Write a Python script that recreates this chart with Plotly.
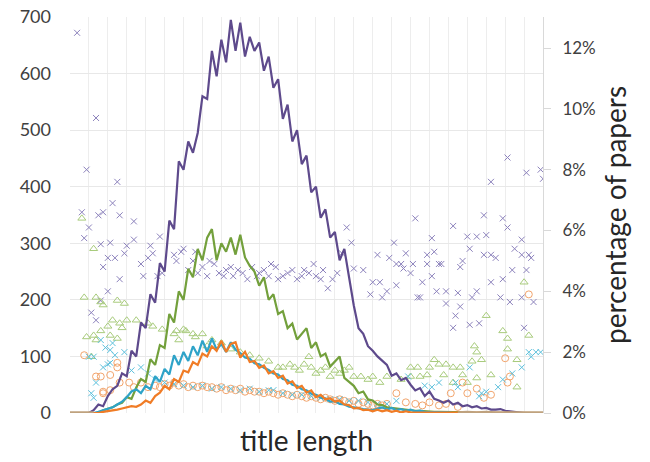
import plotly.graph_objects as go

# ---------------- data ----------------
title_len = list(range(0, 201, 2))

purple_counts = [0, 0, 0, 0, 0, 5, 15, 12, 30, 42,
                 48, 70, 65, 110, 100, 160, 150, 210, 195, 265,
                 250, 340, 325, 445, 430, 480, 460, 495, 560, 555,
                 640, 595, 660, 620, 695, 640, 690, 630, 665, 640,
                 655, 605, 630, 575, 590, 520, 545, 480, 500, 440,
                 455, 390, 400, 345, 360, 310, 320, 270, 290, 240,
                 190, 150, 140, 118, 110, 100, 92, 85, 66, 70,
                 58, 62, 50, 40, 44, 30, 38, 25, 22, 18,
                 22, 15, 18, 12, 14, 10, 12, 8, 9, 6,
                 6, 7, 4, 3, 2, 0, 0, 0, 0, 0, 0]

green_counts = [0, 0, 0, 0, 0, 0, 0, 5, 8, 10,
                15, 18, 28, 25, 45, 60, 55, 95, 85, 120,
                115, 175, 160, 215, 200, 255, 240, 290, 270, 310,
                325, 270, 300, 285, 310, 280, 315, 275, 260, 250,
                225, 240, 200, 210, 175, 180, 150, 158, 130, 140,
                150, 115, 125, 100, 105, 82, 92, 100, 62, 55,
                48, 35, 38, 24, 22, 15, 14, 10, 9, 8,
                6, 5, 5, 4, 4, 3, 3, 2, 2, 2,
                2, 1, 1, 1, 1, 0, 0, 0, 0, 0,
                0, 0, 0, 0, 0, 0, 0, 0, 0, 0, 0]

teal_counts = [0, 0, 0, 0, 0, 0, 2, 5, 8, 10,
               15, 20, 28, 38, 42, 35, 48, 42, 65, 55,
               78, 68, 102, 85, 108, 92, 118, 102, 128, 108,
               132, 112, 122, 108, 125, 112, 106, 98, 96, 88,
               86, 80, 76, 70, 68, 60, 58, 50, 48, 42,
               40, 34, 32, 27, 26, 20, 21, 16, 15, 11,
               10, 8, 7, 6, 5, 8, 10, 6, 9, 5,
               7, 4, 6, 3, 4, 2, 2, 1, 1, 1,
               1, 0, 0, 0, 0, 0, 0, 0, 0, 0,
               0, 0, 0, 0, 0, 0, 0, 0, 0, 0, 0]

orange_counts = [0, 0, 0, 0, 0, 0, 0, 2, 3, 5,
                 6, 8, 10, 12, 11, 15, 22, 18, 30, 36,
                 48, 42, 60, 55, 75, 72, 90, 85, 105, 100,
                 118, 110, 128, 108, 122, 125, 98, 108, 90, 92,
                 80, 84, 70, 74, 62, 66, 52, 56, 44, 48,
                 36, 40, 28, 32, 24, 26, 20, 22, 15, 14,
                 8, 9, 5, 6, 3, 6, 3, 5, 2, 4,
                 1, 3, 1, 1, 0, 0, 0, 0, 0, 0,
                 0, 0, 0, 0, 0, 0, 0, 0, 0, 0,
                 0, 0, 0, 0, 0, 0, 0, 0, 0, 0, 0]

tan_len = [0, 2, 4, 6, 8, 10, None, 164, 168, 172, 176, 180, 184, 188, 192, 196, 200]
tan_counts = [0, 0, 0, 0, 0, 0, None, 0, 1, 0, 1, 0, 0, 1, 0, 0, 0]

purple_pct_len = [3, 5, 6, 7, 8, 9, 11, 11, 12, 13, 13, 14, 14, 16, 16, 17, 18, 19, 20, 21,
                  21, 23, 24, 27, 27, 30, 31, 33, 34, 35, 37, 38, 39, 44, 45, 47, 48, 50, 52, 53,
                  54, 56, 58, 59, 61, 63, 65, 66, 68, 69, 71, 73, 75, 77, 79, 80, 82, 84, 85, 87,
                  88, 90, 92, 94, 96, 98, 99, 101, 103, 104, 106, 107, 109, 111, 113, 115, 117, 119, 120, 124,
                  127, 128, 130, 131, 132, 134, 135, 137, 138, 138, 140, 141, 142, 144, 145, 146, 147, 148, 149, 151,
                  151, 153, 153, 154, 155, 156, 157, 159, 159, 162, 162, 163, 164, 165, 165, 166, 168, 169, 169, 170,
                  172, 172, 173, 175, 175, 176, 178, 178, 178, 180, 182, 183, 183, 185, 185, 186, 187, 188, 191, 191,
                  191, 192, 193, 193, 194, 195, 196, 199, 200]
purple_pct = [12.5, 6.6, 5.75, 8.0, 6.1, 3.3, 9.7, 3.05, 6.5, 5.55, 3.7, 6.6, 4.8, 5.1, 4.0, 5.6, 6.9, 5.1, 7.6, 6.5,
              4.4, 5.25, 5.5, 6.3, 5.7, 4.9, 4.5, 5.1, 5.5, 5.25, 4.5, 5.8, 4.6, 5.2, 5.0, 5.3, 5.4, 4.7, 5.0, 5.3,
              4.6, 4.8, 4.5, 5.0, 4.9, 4.6, 4.5, 4.7, 4.8, 4.5, 4.7, 4.6, 4.4, 4.8, 4.5, 4.6, 4.7, 4.5, 4.9, 4.8,
              4.4, 4.5, 4.6, 4.7, 4.4, 4.5, 4.7, 4.6, 4.9, 4.5, 4.4, 4.7, 4.1, 4.4, 4.6, 5.25, 6.1, 5.6, 4.75, 4.7,
              3.9, 4.3, 5.2, 4.3, 3.8, 4.0, 5.1, 5.6, 4.2, 4.9, 4.9, 4.75, 5.25, 4.6, 4.9, 6.4, 3.8, 3.8, 4.3, 5.2,
              4.9, 5.75, 4.5, 5.3, 4.0, 4.9, 4.9, 4.0, 3.6, 6.15, 2.8, 3.2, 3.95, 4.8, 3.5, 5.0, 5.8, 5.4, 2.9, 3.8,
              5.8, 4.0, 2.95, 6.5, 5.2, 5.85, 7.6, 5.2, 4.3, 5.1, 3.8, 6.4, 4.4, 8.4, 6.1, 3.65, 4.7, 5.4, 5.7, 5.2,
              3.8, 2.8, 7.9, 4.7, 5.2, 5.1, 3.65, 8.0, 7.7]

green_pct_len = [5, 6, 7, 9, 10, 10, 11, 11, 13, 13, 14, 16, 17, 18, 20, 20, 21, 22, 23, 24,
                 28, 33, 35, 39, 44, 45, 46, 48, 49, 52, 53, 56, 58, 60, 64, 68, 72, 76, 80, 84,
                 88, 90, 93, 95, 97, 99, 101, 102, 104, 106, 108, 110, 112, 114, 116, 118, 120, 123, 126, 128,
                 131, 134, 140, 144, 144, 147, 148, 151, 152, 154, 156, 158, 159, 162, 162, 165, 166, 168, 170, 171,
                 172, 172, 174, 176, 178, 183, 185, 185, 189, 189, 192, 194]
green_pct = [6.4, 3.8, 2.5, 1.85, 5.4, 2.55, 3.8, 2.4, 3.65, 2.7, 3.55, 2.85, 2.55, 3.05, 3.7, 2.45, 2.95, 2.8, 3.6, 3.05,
             3.05, 2.95, 2.85, 2.75, 2.6, 2.7, 2.4, 2.75, 2.7, 2.6, 2.5, 2.6, 2.2, 2.4, 2.3, 2.1, 2.0, 1.9, 1.8, 1.7,
             1.5, 1.5, 1.6, 1.5, 1.4, 1.6, 1.85, 1.5, 1.3, 1.4, 1.5, 1.2, 1.4, 1.3, 1.4, 1.5, 1.2, 1.2, 1.1, 1.2,
             1.0, 1.2, 1.1, 1.5, 1.2, 1.5, 1.2, 1.25, 1.5, 1.75, 1.6, 1.25, 1.6, 1.5, 1.0, 1.5, 1.25, 1.0, 1.7, 2.2,
             2.0, 1.15, 1.75, 3.2, 1.25, 2.7, 2.45, 2.1, 1.75, 0.85, 4.3, 2.55]

orange_pct_len = [6, 11, 13, 14, 14, 17, 17, 20, 20, 21, 25, 27, 30, 33, 36, 38, 40, 42, 44, 46,
                  48, 50, 52, 54, 56, 58, 60, 62, 64, 66, 68, 70, 72, 74, 76, 78, 80, 82, 84, 86,
                  88, 90, 92, 94, 96, 98, 100, 102, 104, 106, 108, 110, 112, 114, 116, 118, 120, 122, 124, 126,
                  128, 130, 132, 134, 138, 142, 146, 149, 152, 156, 159, 161, 164, 166, 168, 172, 175, 178, 184, 185,
                  186, 194]
orange_pct = [1.9, 1.2, 1.2, 0.7, 0.65, 1.25, 0.75, 1.65, 1.5, 1.0, 1.0, 0.85, 1.0, 0.85, 0.9, 0.85, 0.95, 0.9, 1.0, 0.9,
              0.95, 0.85, 0.9, 0.85, 0.9, 0.85, 0.85, 0.8, 0.85, 0.75, 0.8, 0.75, 0.8, 0.7, 0.75, 0.7, 0.7, 0.65, 0.7, 0.65,
              0.6, 0.65, 0.6, 0.55, 0.6, 0.55, 0.5, 0.55, 0.5, 0.45, 0.5, 0.45, 0.4, 0.45, 0.4, 0.35, 0.4, 0.3, 0.35, 0.3,
              0.25, 0.3, 0.25, 0.3, 0.65, 0.35, 0.3, 0.25, 0.35, 0.25, 0.3, 0.65, 0.2, 1.0, 0.65, 0.8, 0.5, 0.6, 1.8, 1.0,
              1.2, 3.9]

teal_pct_len = [8, 9, 10, 10, 11, 13, 14, 15, 16, 17, 17, 18, 19, 23, 26, 30, 33, 36, 40, 44,
                48, 52, 56, 60, 64, 68, 72, 76, 80, 84, 86, 90, 94, 98, 102, 106, 110, 114, 118, 122,
                126, 130, 134, 138, 143, 150, 153, 156, 163, 164, 169, 173, 174, 176, 181, 183, 187, 191, 194, 195,
                197, 199]
teal_pct = [1.85, 0.65, 0.5, 1.85, 1.0, 2.4, 1.5, 2.15, 1.6, 1.65, 2.07, 2.3, 1.9, 2.0, 1.4, 1.5, 1.3, 1.1, 1.0, 0.95,
            0.9, 0.85, 0.9, 0.8, 0.85, 0.8, 0.75, 0.8, 0.7, 0.75, 0.75, 0.65, 0.6, 0.6, 0.55, 0.5, 0.45, 0.45, 0.4, 0.4,
            0.35, 0.3, 0.3, 0.4, 1.2, 0.9, 0.85, 1.0, 1.0, 0.85, 1.5, 0.55, 0.65, 0.7, 0.85, 1.1, 1.3, 1.5, 2.0, 1.85,
            2.0, 2.0]

left_ticks = [0, 100, 200, 300, 400, 500, 600, 700]
right_ticks = [0, 2, 4, 6, 8, 10, 12]

# ---------------- figure ----------------
FONT = "Lato"
TXT = "#404040"
fig = go.Figure()

def marker_trace(x, y, sym, color, size):
    return go.Scatter(x=x, y=y, mode="markers", yaxis="y",
                      marker=dict(symbol=sym, size=size, color=color,
                                  line=dict(color=color, width=1)),
                      hoverinfo="skip")

fig.add_trace(marker_trace(purple_pct_len, purple_pct, "x-thin-open", "#8C82BC", 6))
fig.add_trace(marker_trace(green_pct_len, green_pct, "triangle-up-open", "#A8CB7C", 7))
fig.add_trace(marker_trace(orange_pct_len, orange_pct, "circle-open", "#F2A46C", 7))
fig.add_trace(marker_trace(teal_pct_len, teal_pct, "x-thin-open", "#5CC0DC", 6))

def line_trace(x, y, color, w=2.2):
    return go.Scatter(x=x, y=y, mode="lines", yaxis="y2",
                      line=dict(color=color, width=w), hoverinfo="skip")

fig.add_trace(line_trace(title_len, purple_counts, "#5E4A8C"))
fig.add_trace(line_trace(title_len, green_counts, "#73A03C"))
fig.add_trace(line_trace(title_len, teal_counts, "#2EA3C8"))
fig.add_trace(line_trace(title_len, orange_counts, "#F07C26"))
fig.add_trace(line_trace(tan_len, tan_counts, "#BFA27E", 3.5))

fig.update_layout(
    width=650, height=462,
    margin=dict(l=70, r=107, t=17, b=49, autoexpand=False),
    paper_bgcolor="white", plot_bgcolor="white",
    showlegend=False,
    font=dict(family=FONT, color=TXT),
    xaxis=dict(range=[0, 200], dtick=8, tick0=0, showticklabels=False,
               showgrid=True, gridcolor="#EDEDED", gridwidth=1,
               zeroline=False, showline=False, ticks="", automargin=False,
               title=dict(text="title length", font=dict(size=28, color="#262626"), standoff=18)),
    yaxis=dict(range=[0, 13.02], side="right", tickvals=right_ticks,
               ticktext=[f"{v}%" for v in right_ticks],
               showgrid=False, zeroline=False, automargin=False,
               showline=True, linecolor="#D9D9D9", linewidth=1,
               ticks="outside", ticklen=7, tickcolor="#D9D9D9",
               ticklabelstandoff=8,
               tickfont=dict(size=17, color=TXT),
               title=dict(text="percentage of papers", font=dict(size=28, color="#262626"), standoff=11)),
    yaxis2=dict(range=[0, 700], overlaying="y", side="left", tickvals=left_ticks,
                showgrid=True, gridcolor="#E8E8E8", gridwidth=1,
                zeroline=False, showline=False, automargin=False,
                ticks="", ticklabelstandoff=18,
                tickfont=dict(size=18, color=TXT)),
)

fig.write_html("out.html", config={"displayModeBar": False},
               post_script="document.body.style.margin='0';")
